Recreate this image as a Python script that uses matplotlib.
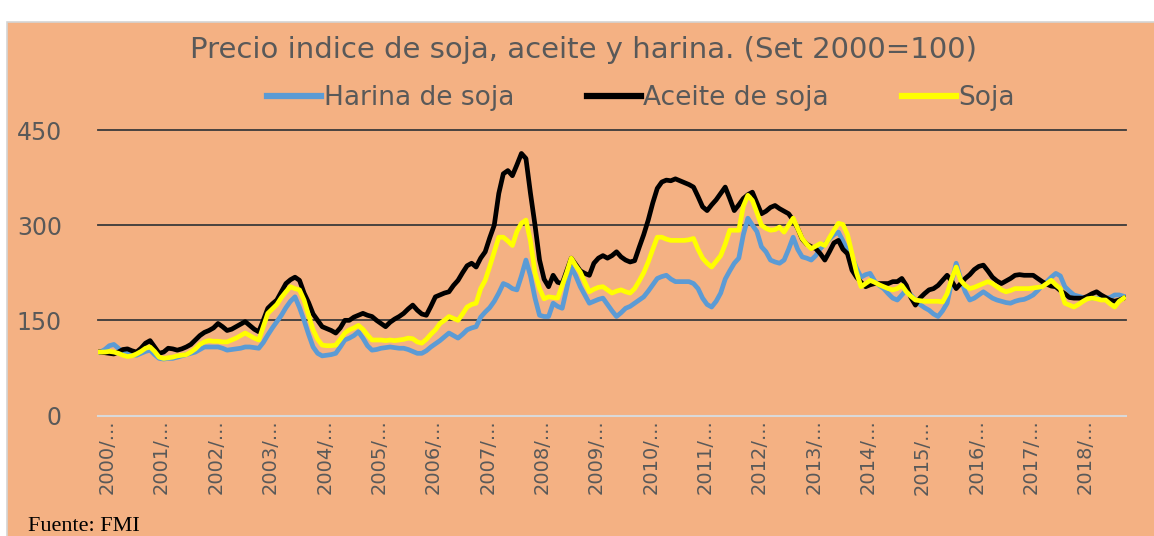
import numpy as np
import matplotlib
matplotlib.use("Agg")
import matplotlib.pyplot as plt
import matplotlib.transforms as mtrans
from matplotlib.patches import Rectangle
from matplotlib.lines import Line2D

# indice mensual, Set 2000 = 100 (2000/09 .. 2019/07)
harina = [
    100, 104, 110, 112, 106, 100, 98, 96, 95, 98, 101, 103,
    96, 90, 89, 90, 90, 92, 94, 96, 98, 100, 104, 108,
    108, 108, 108, 106, 103, 104, 105, 106, 108, 108, 107, 106,
    115, 127, 138, 148, 158, 170, 180, 187, 170, 150, 128, 108,
    98, 94, 95, 96, 98, 108, 119, 122, 126, 132, 122, 110,
    103, 104, 106, 107, 108, 107, 106, 106, 104, 101, 98, 98,
    102, 108, 113, 118, 124, 130, 126, 122, 128, 135, 138, 140,
    155, 163, 170, 180, 193, 208, 205, 200, 198, 220, 245, 220,
    185, 158, 156, 156, 177, 172, 169, 200, 234, 220, 203, 190,
    177, 180, 183, 185, 175, 165, 156, 162, 169, 172, 177, 182,
    187, 196, 206, 216, 219, 221, 215, 211, 211, 211, 211, 208,
    200, 185, 175, 171, 180, 193, 215, 228, 240, 248, 285, 311,
    300, 290, 266, 258, 245, 242, 240, 245, 262, 281, 262, 250,
    248, 245, 252, 263, 270, 278, 285, 289, 275, 260, 250, 232,
    218, 222, 224, 212, 205, 200, 192, 185, 182, 190, 198, 190,
    182, 175, 170, 166, 160, 156, 165, 177, 210, 240, 215, 195,
    182, 185, 190, 195, 190, 185, 182, 180, 178, 177, 180, 182,
    183, 186, 190, 197, 205, 211, 218, 224, 220, 203, 196, 190,
    188, 186, 185, 185, 185, 185, 185, 186, 190, 190, 188,
]
aceite = [
    100, 99, 98, 97, 100, 104, 105, 102, 100, 106, 114, 118,
    108, 98, 100, 106, 105, 103, 105, 108, 112, 119, 126, 131,
    134, 138, 145, 140, 134, 136, 140, 144, 148, 142, 136, 132,
    150, 169, 176, 182, 195, 208, 214, 218, 213, 193, 178, 160,
    150, 140, 137, 134, 130, 138, 150, 150, 155, 158, 161, 158,
    156, 150, 145, 140, 147, 152, 156, 161, 168, 174, 166, 160,
    158, 172, 187, 190, 193, 195, 205, 213, 225, 236, 240, 234,
    248, 258, 280, 300, 350, 381, 386, 378, 395, 413, 405, 350,
    300, 245, 215, 203, 221, 210, 208, 228, 248, 238, 228, 224,
    221, 240, 248, 252, 248, 252, 258, 250, 245, 242, 244, 265,
    285, 308, 335, 358, 368, 371, 370, 373, 370, 367, 364, 360,
    345, 329, 323, 332, 340, 350, 360, 342, 323, 332, 342, 348,
    352, 335, 318, 322, 328, 331, 326, 322, 318, 308, 295, 278,
    270, 266, 263, 255, 245, 258, 272, 276, 262, 255, 229, 218,
    210, 203, 206, 208, 208, 208, 208, 211, 211, 216, 205, 186,
    174, 185, 192, 198, 200, 205, 213, 221, 212, 200, 208, 216,
    222, 230, 235, 237, 228, 218, 212, 208, 212, 216, 221, 222,
    221, 221, 221, 216, 211, 207, 204, 203, 197, 192, 186, 185,
    185, 185, 188, 192, 195, 190, 186, 182, 180, 182, 185,
]
soja = [
    100, 100, 101, 100, 98, 95, 93, 94, 97, 101, 106, 108,
    101, 92, 90, 91, 92, 94, 95, 96, 100, 105, 112, 116,
    118, 117, 117, 116, 116, 119, 122, 126, 130, 126, 122, 119,
    140, 161, 168, 175, 186, 195, 203, 200, 198, 182, 158, 135,
    120, 111, 110, 110, 111, 120, 130, 135, 138, 142, 136, 127,
    119, 119, 119, 118, 119, 118, 119, 120, 122, 121, 116, 114,
    120, 128, 135, 145, 150, 156, 153, 150, 160, 171, 175, 177,
    200, 213, 235, 258, 281, 281, 275, 268, 290, 303, 308, 275,
    225, 200, 184, 187, 186, 185, 205, 225, 248, 236, 226, 210,
    195, 199, 202, 203, 198, 193, 196, 198, 195, 193, 200, 212,
    225, 242, 262, 281, 281, 278, 276, 276, 276, 276, 277, 279,
    262, 248, 240, 234, 243, 252, 270, 292, 292, 292, 330, 347,
    339, 320, 300, 295, 292, 293, 297, 289, 300, 311, 295, 279,
    270, 263, 267, 271, 268, 280, 292, 303, 301, 285, 255, 225,
    203, 208, 213, 210, 206, 203, 200, 198, 200, 205, 195, 188,
    182, 181, 180, 180, 180, 180, 179, 192, 215, 234, 213, 205,
    200, 202, 205, 208, 211, 208, 203, 198, 195, 197, 200, 200,
    200, 200, 201, 202, 203, 208, 213, 206, 200, 177, 174, 171,
    175, 180, 184, 185, 184, 182, 182, 176, 171, 180, 185,
]
tick_labels = ["2000/...", "2001/...", "2002/...", "2003/...", "2004/...",
               "2005/...", "2006/...", "2007/...", "2008/...", "2009/...",
               "2010/...", "2011/...", "2012/...", "2013/...", "2014/...",
               "2015/...", "2016/...", "2017/...", "2018/..."]
series_names = ["Harina de soja", "Aceite de soja", "Soja"]
colors = ["#5B9BD5", "#000000", "#FFFF00"]

W, H = 1154, 536
fig = plt.figure(figsize=(W / 100, H / 100), dpi=100)
fig.patch.set_facecolor("white")
fig.patches.append(Rectangle((7 / W, -0.01), 1, 1 - 22 / H + 0.01, transform=fig.transFigure,
                             facecolor="#F4B183", edgecolor="#D4D4D4", lw=1.2, zorder=-5))

ax = fig.add_axes([98 / W, 1 - 415.5 / H, 1028 / W, 285.5 / H])
ax.set_facecolor("none")

x = np.arange(len(soja))
for vals, name, c in zip([harina, aceite, soja], series_names, colors):
    ax.plot(x, vals, color=c, lw=3.4, label=name, solid_joinstyle="round", zorder=3)

ax.set_xlim(-0.5, len(soja) - 0.5)
ax.set_ylim(0, 450)
ax.set_yticks([0, 150, 300, 450])
ax.yaxis.grid(True, color="#3a3a3a", lw=1.3)
for gl in ax.get_ygridlines():
    gl.set_clip_on(False)
ax.set_axisbelow(True)
for s in ["top", "right", "left"]:
    ax.spines[s].set_visible(False)
ax.spines["bottom"].set_color("#D9D9D9")
ax.spines["bottom"].set_linewidth(1.5)

ax.set_xticks(np.arange(0, len(soja), 12))
ax.set_xticklabels(tick_labels, rotation=90, fontsize=14, color="#595959")
ax.tick_params(axis="x", length=0, pad=3)
ax.tick_params(axis="y", length=0, pad=26, labelsize=17, labelcolor="#595959")
# Excel pushes the rotated labels a little to the right of the category
shift = mtrans.ScaledTranslation(7 / 100, 0, fig.dpi_scale_trans)
for lab in ax.get_xticklabels():
    lab.set_transform(lab.get_transform() + shift)

fig.text(584 / W, 1 - 50 / H, "Precio indice de soja, aceite y harina. (Set 2000=100)",
         ha="center", va="center", fontsize=21, color="#595959")

handles = [Line2D([], [], color=c, lw=4.5) for c in colors]
fig.legend(handles, series_names, loc="center", bbox_to_anchor=(641 / W, 1 - 98 / H),
           ncol=3, frameon=False, handlelength=2.05, handletextpad=0.1,
           columnspacing=2.75, labelcolor="#595959", prop={"size": 19})

fig.text(28 / W, 1 - 531 / H, "Fuente: FMI", ha="left", va="baseline", fontsize=16,
         family="Liberation Serif", color="black")

fig.savefig("out.png", dpi=100, facecolor=fig.get_facecolor())
